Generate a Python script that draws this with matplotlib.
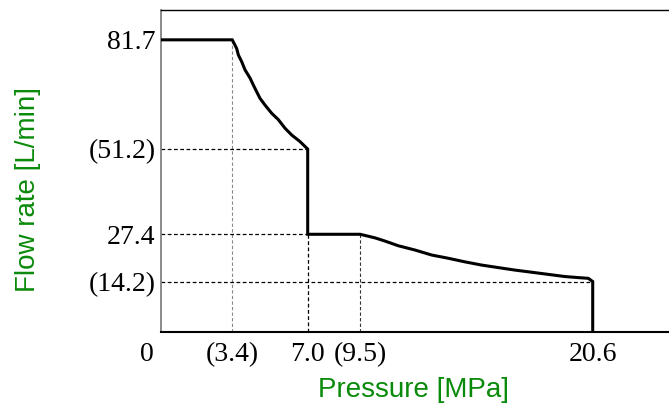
import matplotlib
matplotlib.use("Agg")
import matplotlib.pyplot as plt
from matplotlib.transforms import offset_copy

# ---- data ----
p_flat1 = [0.0, 3.4]
q_flat1 = [81.7, 81.7]
p_curve1 = [3.4, 3.61, 3.69, 3.85, 4.01, 4.25, 4.48, 4.72, 4.96, 5.28, 5.60, 5.92, 6.24, 6.63, 7.0]
q_curve1 = [81.7, 79.3, 77.5, 75.6, 73.3, 71.0, 68.2, 65.4, 63.5, 61.2, 59.4, 57.0, 55.1, 53.3, 51.2]
p_flat2 = [7.0, 7.0, 9.5]
q_flat2 = [51.2, 27.4, 27.4]
p_curve2 = [9.5, 10.21, 10.69, 11.32, 12.12, 12.92, 13.71, 14.50, 15.30, 16.09, 16.89,
            17.69, 18.48, 19.27, 19.91, 20.39, 20.6, 20.6]
q_curve2 = [27.4, 26.4, 25.5, 24.2, 23.0, 21.6, 20.7, 19.7, 18.8, 18.1, 17.4,
            16.8, 16.2, 15.6, 15.3, 15.1, 14.2, 0.0]

x_ticks = [3.4, 7.0, 9.5, 20.6]
x_ticklabels = ["(3.4)", "7.0", "(9.5)", "20.6"]
y_ticks = [81.7, 51.2, 27.4, 14.2]
y_ticklabels = ["81.7", "(51.2)", "27.4", "(14.2)"]

GREEN = "#0a8a0a"
SERIF = ["Liberation Serif", "DejaVu Serif"]
SANS = ["Liberation Sans", "DejaVu Sans"]

fig = plt.figure(figsize=(6.69, 4.07), dpi=100)
ax = fig.add_axes([161 / 669, 74.6 / 407, 1 - 161 / 669, 322.3 / 407])

p_all = p_flat1 + p_curve1[1:] + p_flat2[1:] + p_curve2[1:]
q_all = q_flat1 + q_curve1[1:] + q_flat2[1:] + q_curve2[1:]
ax.plot(p_all, q_all, color="black", lw=2.2, solid_joinstyle="miter", zorder=3)

dash = (0, (3, 2))
# vertical guides
ax.plot([3.4, 3.4], [0, 81.7], color="#888888", lw=0.8, linestyle=dash, zorder=1)
ax.plot([7.0, 7.0], [0, 27.4], color="black", lw=0.9, linestyle=dash, zorder=1)
ax.plot([9.5, 9.5], [0, 27.4], color="#333333", lw=0.8, linestyle=dash, zorder=1)
# horizontal guides
ax.plot([0, 7.0], [51.2, 51.2], color="black", lw=0.9, linestyle=dash, zorder=1)
ax.plot([0, 7.0], [27.4, 27.4], color="black", lw=0.9, linestyle=dash, zorder=1)
ax.plot([0, 20.6], [14.2, 14.2], color="black", lw=0.9, linestyle=dash, zorder=1)

ax.set_xlim(0, 24.24)
ax.set_ylim(0, 90)

ax.set_xticks(x_ticks)
ax.set_xticklabels(x_ticklabels, fontsize=20, family=SERIF)
ax.set_yticks(y_ticks)
ax.set_yticklabels(y_ticklabels, fontsize=20, family=SERIF)
ax.tick_params(length=0, pad=4)
ax.tick_params(axis="x", pad=7)

zero_tr = offset_copy(ax.get_xaxis_transform(), fig=fig, x=0, y=-7, units="points")
ax.text(-0.67, 0, "0", transform=zero_tr,
        fontsize=20, family=SERIF, ha="center", va="top", clip_on=False)

ax.spines["right"].set_visible(False)
ax.spines["left"].set_color("#777777")
ax.spines["left"].set_linewidth(1.2)
ax.spines["bottom"].set_linewidth(1.5)
ax.spines["top"].set_linewidth(1.0)

fig.text(414 / 669, 1 - 390 / 407, "Pressure [MPa]", color=GREEN, fontsize=20,
         family=SANS, ha="center", va="center")
fig.text(28 / 669, 1 - 190 / 407, "Flow rate [L/min]", color=GREEN, fontsize=20,
         family=SANS, ha="center", va="center", rotation=90)

fig.savefig("out.png", dpi=100)
